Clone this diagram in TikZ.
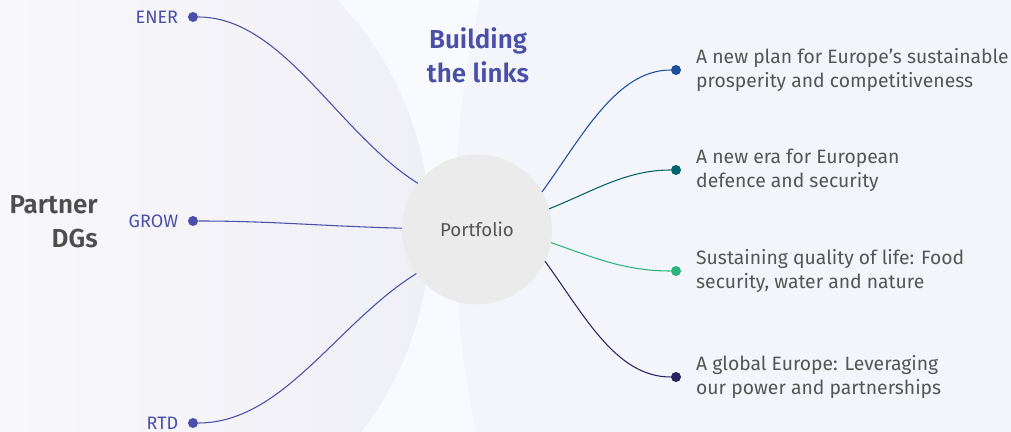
\documentclass[tikz,border=0pt]{standalone}
\usepackage{fontspec}
\setmainfont{Fira Sans}
\newfontfamily\headfont{Fira Sans}[UprightFont=* SemiBold]
\usetikzlibrary{positioning}

\definecolor{dgblue}{HTML}{4A4FA8}
\definecolor{txtgray}{HTML}{555555}
\definecolor{headgray}{HTML}{4D4D4D}
\definecolor{portgray}{HTML}{EBEBEB}
\definecolor{bgbase}{HTML}{F9FAFD}
\definecolor{bgleft}{HTML}{FDFDFE}
\definecolor{bgmid}{HTML}{EFEFF6}
\definecolor{bgright}{HTML}{F4F5FA}
\definecolor{themeblue}{HTML}{1D4F9F}
\definecolor{themeteal}{HTML}{00646C}
\definecolor{themegreen}{HTML}{2DB47A}
\definecolor{themenavy}{HTML}{2A2560}

\tikzset{
  dgdot/.style={circle, fill=dgblue, minimum size=7.5pt, inner sep=0pt},
  themedot/.style={circle, fill=#1, minimum size=7.5pt, inner sep=0pt},
  dglabel/.style={text=dgblue, font=\fontsize{13.5}{15}\selectfont, inner sep=1pt},
  themetext/.style={text=txtgray, font=\fontsize{14.5}{18}\selectfont, align=left, inner sep=1pt},
  headtext/.style={font=\headfont\fontsize{19.5}{25.5}\selectfont, inner sep=0pt},
  link/.style={draw=#1, line width=0.8pt},
}

\begin{document}
\begin{tikzpicture}[x=0.75pt, y=0.75pt]
    \useasboundingbox (0,0) rectangle (1011,432);

    % background
    \fill[bgbase] (0,0) rectangle (1011,432);
    \begin{scope}
      \clip (0,0) rectangle (1011,432);
      \shade[left color=bgleft, right color=bgmid] (99,202) circle (331);
      \fill[bgright] (1480,207) circle (1025);
    \end{scope}

    % portfolio
    \node[circle, fill=portgray, minimum size=112.5pt, outer sep=0pt,
          text=txtgray, font=\fontsize{14}{16}\selectfont] (port) at (477,202.5) {Portfolio};

    % partner DGs
    \node[dgdot] (ener) at (193,415) {};
    \node[dgdot] (grow) at (193,211) {};
    \node[dgdot] (rtd) at (193,9) {};
    \node[dglabel, left=6pt of ener] (enerlbl) {ENER};
    \node[dglabel, left=6pt of grow] (growlbl) {GROW};
    \node[dglabel, left=6pt of rtd] (rtdlbl) {RTD};

    % themes
    \node[themedot=themeblue] (plan) at (676,362) {};
    \node[themedot=themeteal] (defence) at (676,262) {};
    \node[themedot=themegreen] (food) at (676,161) {};
    \node[themedot=themenavy] (global) at (676,55) {};
    \node[themetext, right=10pt of plan] (plantxt) {A new plan for Europe’s sustainable\\prosperity and competitiveness};
    \node[themetext, right=10pt of defence] (defencetxt) {A new era for European\\defence and security};
    \node[themetext, right=10pt of food] (foodtxt) {Sustaining quality of life: Food\\security, water and nature};
    \node[themetext, right=10pt of global] (globaltxt) {A global Europe: Leveraging\\our power and partnerships};

    % titles
    \node[headtext, text=headgray, align=right, anchor=east] (partner) at (98,210.5) {Partner\\DGs};
    \node[headtext, text=dgblue, align=center] (title) at (478,377) {Building\\the links};

    % links
    \draw[link=dgblue] (ener) .. controls +(90,0) and +(-80,50) .. (port.142);
    \draw[link=dgblue] (grow) .. controls +(80,0) and +(-80,2) .. (port.179);
    \draw[link=dgblue] (rtd) .. controls +(90,0) and +(-80,-50) .. (port.216);
    \draw[link=themeblue] (port.30) .. controls +(40,55) and +(-60,0) .. (plan);
    \draw[link=themeteal] (port.16) .. controls +(45,18) and +(-50,0) .. (defence);
    \draw[link=themegreen] (port.-10) .. controls +(45,-16) and +(-50,0) .. (food);
    \draw[link=themenavy] (port.-25) .. controls +(40,-55) and +(-60,0) .. (global);

  \end{tikzpicture}
\end{document}
